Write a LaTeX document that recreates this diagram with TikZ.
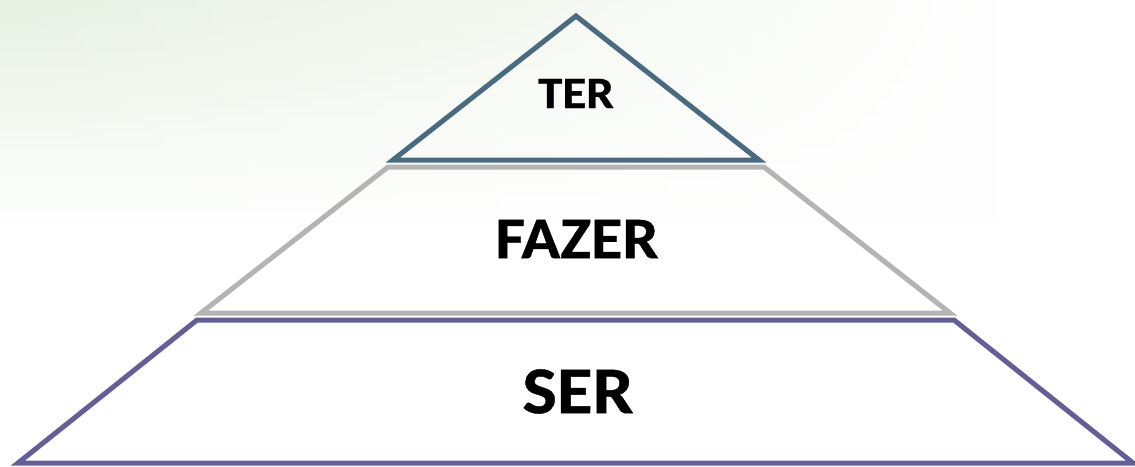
\documentclass[tikz,border=0pt]{standalone}
\usepackage{fontspec}
\setmainfont{Carlito}[BoldFeatures={FakeBold=0.6}]
\usetikzlibrary{fadings}
\definecolor{tierTop}{RGB}{74,106,128}
\definecolor{tierMid}{RGB}{180,180,180}
\definecolor{tierBase}{RGB}{99,95,150}
\definecolor{haze}{RGB}{232,240,226}
\tikzset{
  tier/.style={line width=5pt, line join=miter},
  label/.style={text=black, inner sep=0pt, anchor=center}
}
\newcommand{\widetext}[2]{\scalebox{1.09}[1]{\fontsize{#1}{#1}\selectfont\bfseries #2}}
\begin{document}
\begin{tikzpicture}[x=1pt, y=-1pt]
  \useasboundingbox (0,0) rectangle (1135,466);
  \fill[white] (0,0) rectangle (1135,466);
  % pale green wash in the upper left
  \shade[top color=haze, bottom color=white, path fading=east] (0,0) rectangle (1000,230);

  % corners
  \coordinate (tA) at (576,16);
  \coordinate (tL) at (393,160);
  \coordinate (tR) at (759,160);
  \coordinate (mTL) at (388,167);
  \coordinate (mTR) at (764,167);
  \coordinate (mBL) at (201,313);
  \coordinate (mBR) at (950,313);
  \coordinate (bTL) at (197,320);
  \coordinate (bTR) at (954,320);
  \coordinate (bBL) at (18,463);
  \coordinate (bBR) at (1133,463);

  % pyramid tiers
  \draw[tier, tierMid] (mTL) -- (mTR) -- (mBR) -- (mBL) -- cycle;
  \draw[tier, tierBase] (bTL) -- (bTR) -- (bBR) -- (bBL) -- cycle;
  \draw[tier, tierTop] (tA) -- (tR) -- (tL) -- cycle;

  % tier labels
  \node[label] (ter) at (576,93.5) {\widetext{45}{TER}};
  \node[label] (fazer) at (577,239) {\widetext{59}{FAZER}};
  \node[label] (ser) at (578,391.5) {\widetext{67}{SER}};
\end{tikzpicture}
\end{document}
